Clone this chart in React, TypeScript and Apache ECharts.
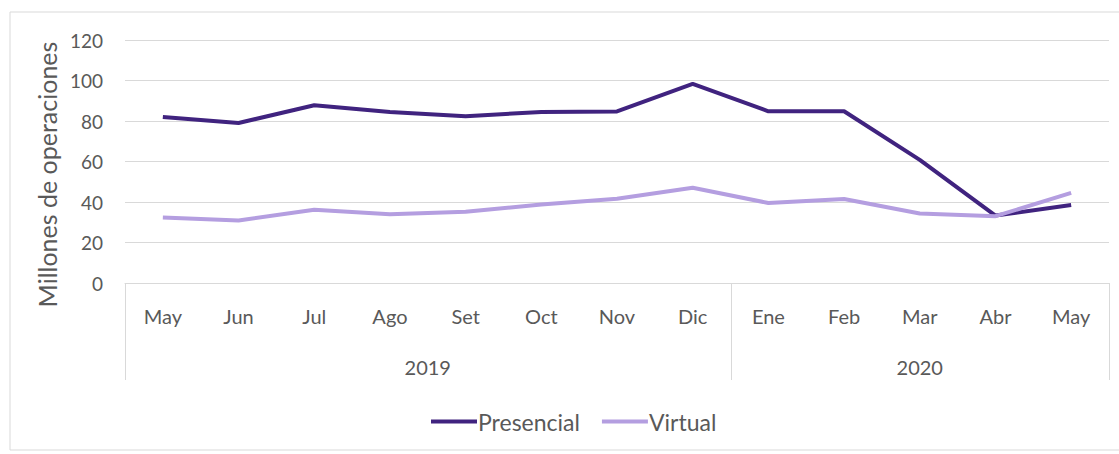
import React, { useEffect, useRef } from "react";
import * as echarts from "echarts";

const months = ["May", "Jun", "Jul", "Ago", "Set", "Oct", "Nov", "Dic", "Ene", "Feb", "Mar", "Abr", "May"];
const years = ["2019", "2020"];
const yearCounts = [8, 5];
const presencial = [82, 79, 87.8, 84.5, 82.3, 84.5, 84.7, 98.3, 84.8, 84.8, 60.8, 33.3, 38.5];
const virtual = [32.3, 30.9, 36.2, 34, 35.2, 38.8, 41.6, 47, 39.5, 41.5, 34.3, 33, 44.5];
const yTicks = { min: 0, max: 120, interval: 20 };

const FONT = "Lato";
const TEXT = "#595959";
const GRID_LINE = "#d9d9d9";
const C_PRES = "#40237f";
const C_VIRT = "#b49ee0";

export default function App() {
  const ref = useRef<HTMLDivElement>(null);
  useEffect(() => {
    if (!ref.current) return;
    const chart = echarts.init(ref.current, undefined, { renderer: "svg" });
    const option: any = {
      animation: false,
      backgroundColor: "#ffffff",
      textStyle: { fontFamily: FONT },
      grid: { left: 125, right: 10, top: 40, bottom: 171, containLabel: false },
      legend: {
        bottom: 16,
        left: 426,
        itemWidth: 46,
        itemHeight: 4,
        itemGap: 22,
        icon: "rect",
        textStyle: { color: TEXT, fontSize: 23, fontFamily: FONT, padding: [0, 0, 0, -4] },
        data: ["Presencial", "Virtual"],
      },
      xAxis: {
        type: "category",
        data: months,
        boundaryGap: true,
        axisLine: { show: true, lineStyle: { color: GRID_LINE, width: 1 } },
        axisTick: { show: false },
        axisLabel: { color: TEXT, fontSize: 20, fontFamily: FONT, margin: 23, interval: 0 },
      },
      yAxis: {
        type: "value",
        min: yTicks.min,
        max: yTicks.max,
        interval: yTicks.interval,
        name: "Millones de operaciones",
        nameLocation: "middle",
        nameGap: 63,
        nameTextStyle: { color: TEXT, fontSize: 25, fontFamily: FONT, padding: [0, 26, 0, 0] },
        axisLine: { show: false },
        axisTick: { show: false },
        axisLabel: { color: TEXT, fontSize: 19, fontFamily: FONT, margin: 22 },
        splitLine: { lineStyle: { color: GRID_LINE, width: 1 } },
      },
      series: [
        {
          name: "Presencial",
          type: "line",
          data: presencial,
          symbol: "none",
          lineStyle: { color: C_PRES, width: 4 },
          itemStyle: { color: C_PRES },
        },
        {
          name: "Virtual",
          type: "line",
          data: virtual,
          symbol: "none",
          lineStyle: { color: C_VIRT, width: 4 },
          itemStyle: { color: C_VIRT },
        },
      ],
    };
    chart.setOption(option);

    // group separators and year labels computed from the axis scale
    const x0 = chart.convertToPixel({ xAxisIndex: 0 }, 0) as number;
    const x1 = chart.convertToPixel({ xAxisIndex: 0 }, 1) as number;
    const band = x1 - x0;
    const yBase = chart.convertToPixel({ yAxisIndex: 0 }, 0) as number;
    const yEnd = yBase + 97;
    const elements: any[] = [
      {
        type: "rect",
        shape: { x: 10, y: 12, width: 1120, height: 438 },
        style: { fill: "none", stroke: GRID_LINE, lineWidth: 1 },
        silent: true,
      },
    ];
    let start = 0;
    const bounds: number[] = [x0 - band / 2];
    yearCounts.forEach((n, i) => {
      const left = x0 - band / 2 + start * band;
      const right = left + n * band;
      bounds.push(right);
      elements.push({
        type: "text",
        x: (left + right) / 2,
        y: yBase + 84,
        style: {
          text: years[i],
          fill: TEXT,
          font: `20px ${FONT}`,
          align: "center",
          verticalAlign: "middle",
        },
      });
      start += n;
    });
    bounds.forEach((bx) => {
      elements.push({
        type: "line",
        shape: { x1: Math.round(bx) + 0.5, y1: yBase, x2: Math.round(bx) + 0.5, y2: yEnd },
        style: { stroke: GRID_LINE, lineWidth: 1 },
        silent: true,
      });
    });
    chart.setOption({ graphic: { elements } });

    return () => chart.dispose();
  }, []);
  return (
    <div
      ref={ref}
      style={{ position: "absolute", left: 0, top: 0, width: 1119, height: 454 }}
    />
  );
}
